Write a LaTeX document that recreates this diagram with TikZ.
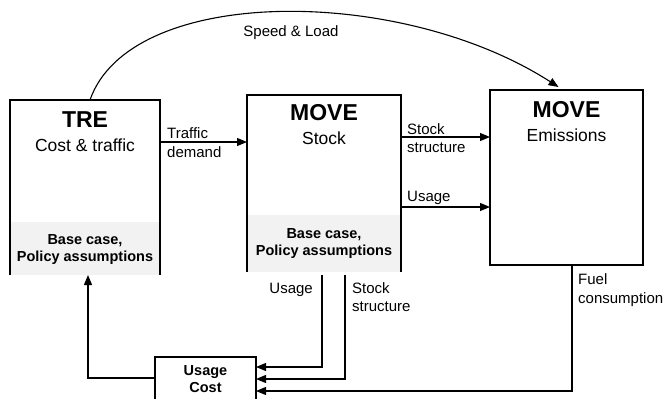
\documentclass[tikz,border=0pt]{standalone}
\usepackage{fontspec}
\setmainfont{Liberation Sans}
\usetikzlibrary{arrows.meta,calc}
\begin{document}
\begin{tikzpicture}[x=1pt,y=-1pt,
  box/.style={rectangle,draw=none,inner sep=0,outer sep=0},
  edge/.style={line width=1.1pt},
  arr/.style={edge,-{Triangle[length=10pt,width=8pt]}},
  title/.style={font=\fontsize{23}{26}\selectfont\bfseries,inner sep=0},
  sub/.style={font=\fontsize{17.5}{20}\selectfont,inner sep=0},
  lbl/.style={font=\fontsize{15}{18}\selectfont,inner sep=0},
  base/.style={font=\fontsize{14.5}{17}\selectfont\bfseries,align=center,inner sep=0},
  shadebox/.style={fill=gray!10}
]
\useasboundingbox (0,0) rectangle (665,399);
% boxes
\node[box,minimum width=150pt,minimum height=175pt] (tre) at (85,187.5) {};
\node[box,minimum width=154pt,minimum height=177pt] (stock) at (324,183.5) {};
\node[box,minimum width=153pt,minimum height=175pt] (emis) at (566.5,177.5) {};
\node[box,minimum width=101pt,minimum height=43pt] (uc) at (205.5,378.5) {};
% shading
\fill[shadebox] (tre.south west) rectangle ([yshift=53pt]tre.south east);
\fill[shadebox] (stock.south west) rectangle ([yshift=57pt]stock.south east);
% outlines
\draw[edge] (tre.south west) -- (tre.north west) -- (tre.north east) -- (tre.south east);
\draw[edge] (stock.south west) -- (stock.north west) -- (stock.north east) -- (stock.south east);
\draw[edge] (emis.south west) rectangle (emis.north east);
\draw[edge] (uc.south west) -- (uc.north west) -- (uc.north east) -- (uc.south east);
% box texts
\node[title] (treT) at (85,120) {TRE};
\node[sub] (treS) at (85,145) {Cost \& traffic};
\node[base] (treB) at (85,250) {Base case,\\Policy assumptions};
\node[title] (stT) at (324,113) {MOVE};
\node[sub] (stS) at (324,138) {Stock};
\node[base] (stB) at (324,244) {Base case,\\Policy assumptions};
\node[title] (emT) at (566.5,110) {MOVE};
\node[sub] (emS) at (566.5,135) {Emissions};
\node[base] (ucT) at (205.5,379) {Usage\\Cost};
% helper coordinates
\coordinate (yTraf) at (0,142);
\coordinate (yStk) at (0,137);
\coordinate (yUse) at (0,207);
\coordinate (xUse) at (322,0);
\coordinate (xStk) at (345,0);
\coordinate (xFuel) at (572,0);
\coordinate (yA) at (0,367);
\coordinate (yB) at (0,379);
\coordinate (yC) at (0,391);
\coordinate (yFb) at (0,378);
% horizontal connectors
\draw[arr] (tre.east |- yTraf) -- (stock.west |- yTraf);
\node[lbl,anchor=west] (lTraf1) at (167,133) {Traffic};
\node[lbl,anchor=west] (lTraf2) at (167,152) {demand};
\draw[arr] (stock.east |- yStk) -- (emis.west |- yStk);
\node[lbl,anchor=west] (lStk1) at (407,129) {Stock};
\node[lbl,anchor=west] (lStk2) at (407,148) {structure};
\draw[arr] (stock.east |- yUse) -- (emis.west |- yUse);
\node[lbl,anchor=west] (lUse) at (407,198) {Usage};
% arc
\draw[arr] ([xshift=5pt]tre.north) .. controls (130,-15) and (400,-15) .. ([xshift=-8pt,yshift=3pt]emis.north);
\node[lbl] (lSpeed) at (291,33) {Speed \& Load};
% bottom connectors
\draw[arr] ($(stock.south -| xUse)+(0,3)$) |- (uc.east |- yA);
\draw[arr] ($(stock.south -| xStk)+(0,3)$) |- (uc.east |- yB);
\draw[arr] (emis.south -| xFuel) |- (uc.east |- yC);
\node[lbl,anchor=east] (lUse2) at (313,290) {Usage};
\node[lbl,anchor=west] (lStk3) at (352,288) {Stock};
\node[lbl,anchor=west] (lStk4) at (352,307) {structure};
\node[lbl,anchor=west] (lFuel1) at (578,279) {Fuel};
\node[lbl,anchor=west] (lFuel2) at (578,300) {consumption};
% feedback
\draw[arr] (uc.west |- yFb) -| ([xshift=3pt]tre.south);
\end{tikzpicture}
\end{document}
